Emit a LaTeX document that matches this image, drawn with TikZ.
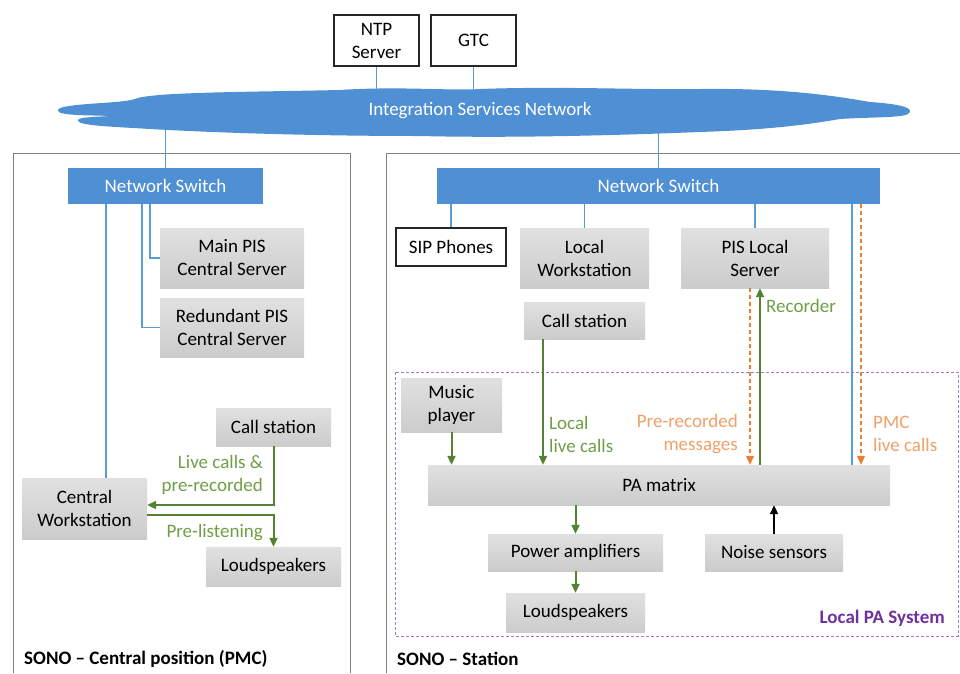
\documentclass[tikz,border=0pt]{standalone}
\usepackage{fontspec}
\setmainfont{Carlito}
\usetikzlibrary{arrows.meta,backgrounds}
\definecolor{netblue}{HTML}{5B9BD5}
\definecolor{cloudblue}{HTML}{4F8FD3}
\definecolor{agreen}{HTML}{548235}
\definecolor{tgreen}{HTML}{6F9E47}
\definecolor{aorange}{HTML}{ED7D31}
\definecolor{torange}{HTML}{F0A068}
\definecolor{pabox}{HTML}{A07CC8}
\definecolor{patext}{HTML}{7030A0}
\definecolor{secgray}{HTML}{7F7F7F}
\newcommand\dfont{\fontsize{19}{23}\selectfont}
\tikzset{
  greybox/.style={top color=gray!24, bottom color=gray!40, draw=none, inner sep=0pt, align=center, font=\dfont},
  whitebox/.style={draw=black!85, line width=1.1pt, fill=white, inner sep=0pt, align=center, font=\dfont},
  switchbox/.style={fill=cloudblue, draw=none, inner sep=0pt, text=white, font=\dfont},
  netline/.style={draw=netblue, line width=1.8pt},
  garrow/.style={draw=agreen, line width=2pt, -{Triangle[length=9pt,width=8pt]}},
  oarrow/.style={draw=aorange, line width=1.1pt, dash pattern=on 4pt off 3pt, -{Triangle[length=9pt,width=8pt]}},
  karrow/.style={draw=black, line width=2pt, -{Triangle[length=9pt,width=8pt]}},
  glabel/.style={text=tgreen, font=\dfont, inner sep=0pt},
  olabel/.style={text=torange, font=\dfont, inner sep=0pt},
  seclabel/.style={font=\dfont\bfseries, inner sep=0pt, anchor=west},
  secline/.style={draw=secgray, line width=1pt}
}
\begin{document}
\begin{tikzpicture}[x=1pt,y=-1pt]
\useasboundingbox (0,0) rectangle (960,673);
% section frames
\draw[secline] (13,673) -- (13,153) -- (350,153) -- (350,673);
\draw[secline] (386,673) -- (386,153) -- (960,153);
% local PA system frame
\draw[draw=pabox, line width=1pt, dash pattern=on 3pt off 2pt] (395,372) rectangle (958,636);
\node[text=patext, font=\dfont\bfseries, anchor=east, inner sep=0pt] (lpa) at (945,618) {Local PA System};
% cloud
\fill[cloudblue] (58,110)
 .. controls (60,103) and (120,104) .. (135,99)
 .. controls (150,92) and (250,92) .. (340,90)
 .. controls (400,86) and (450,91) .. (480,89)
 .. controls (560,86) and (640,90) .. (700,89)
 .. controls (780,88) and (830,95) .. (870,102)
 .. controls (900,104) and (916,108) .. (908,114)
 .. controls (900,118) and (870,117) .. (840,119)
 .. controls (800,126) and (760,130) .. (700,132)
 .. controls (600,136) and (500,138) .. (420,136)
 .. controls (320,136) and (220,133) .. (150,129)
 .. controls (120,127) and (80,126) .. (78,121)
 .. controls (76,117) and (95,117) .. (110,116)
 .. controls (90,115) and (56,116) .. (58,110) -- cycle;
\node[text=white, font=\dfont, inner sep=0pt] (isn) at (480,111) {Integration Services Network};
% top boxes
\node[whitebox, minimum width=85pt, minimum height=51pt] (ntp) at (376.5,40.5) {NTP\\Server};
\node[whitebox, minimum width=85pt, minimum height=51pt] (gtc) at (473.5,40.5) {GTC};
% left section
\node[switchbox, minimum width=195pt, minimum height=36pt] (swL) at (165.5,186) {Network Switch};
\node[greybox, minimum width=144pt, minimum height=60pt] (mainpis) at (232,258) {Main PIS\\Central Server};
\node[greybox, minimum width=144pt, minimum height=59pt] (redpis) at (232,327.5) {Redundant PIS\\Central Server};
\node[greybox, minimum width=115pt, minimum height=38pt] (callL) at (273.5,427) {Call station};
\node[greybox, minimum width=125pt, minimum height=61pt] (cws) at (84.5,508.5) {Central\\Workstation};
\node[greybox, minimum width=135pt, minimum height=39pt] (lsL) at (273.5,566.5) {Loudspeakers};
% right section
\node[switchbox, minimum width=443pt, minimum height=36pt] (swR) at (658.5,186) {Network Switch};
\node[whitebox, minimum width=110pt, minimum height=38pt] (sip) at (451,247) {SIP Phones};
\node[greybox, minimum width=129pt, minimum height=60pt] (lws) at (584.5,258) {Local\\Workstation};
\node[greybox, minimum width=148pt, minimum height=60pt] (pisl) at (755,258) {PIS Local\\Server};
\node[greybox, minimum width=121pt, minimum height=37pt] (callR) at (584.5,320.5) {Call station};
\node[greybox, minimum width=101pt, minimum height=54pt] (music) at (451.5,405) {Music\\player};
\node[greybox, minimum width=462pt, minimum height=40pt] (pa) at (659,485) {PA matrix};
\node[greybox, minimum width=175pt, minimum height=37pt] (pamp) at (575.5,552.5) {Power amplifiers};
\node[greybox, minimum width=139pt, minimum height=39pt] (lsR) at (575.5,612.5) {Loudspeakers};
\node[greybox, minimum width=138pt, minimum height=37pt] (noise) at (774,552.5) {Noise sensors};
% helper coordinates
\coordinate (xl1) at (106,0);
\coordinate (xl2) at (142,0);
\coordinate (xl3) at (150,0);
\coordinate (ya) at (0,505);
\coordinate (yb) at (0,515);
\coordinate (xr1) at (852,0);
\coordinate (xr2) at (861,0);
\coordinate (xr3) at (543,0);
\coordinate (xr4) at (750,0);
\coordinate (xr5) at (760,0);
% network lines (behind cloud)
\begin{scope}[on background layer]
\draw[netline] (ntp.south) -- (ntp.south |- isn.center);
\draw[netline] (gtc.south) -- (gtc.south |- isn.center);
\draw[netline] (swL.north) -- (swL.north |- isn.center);
\draw[netline] (swR.north) -- (swR.north |- isn.center);
\end{scope}
\draw[netline] (swL.south -| xl1) -- (cws.north -| xl1);
\draw[netline] (swL.south -| xl3) |- (mainpis.west);
\draw[netline] (swL.south -| xl2) |- (redpis.west);
\draw[netline] (swR.south -| sip.north) -- (sip.north);
\draw[netline] (swR.south -| lws.north) -- (lws.north);
\draw[netline] (swR.south -| pisl.north) -- (pisl.north);
\draw[netline] (swR.south -| xr1) -- (pa.north -| xr1);
\draw[oarrow] (swR.south -| xr2) -- (pa.north -| xr2);
% left green arrows
\draw[garrow] (callL.south) |- (cws.east |- ya);
\draw[garrow] (cws.east |- yb) -| (lsL.north);
\node[glabel, anchor=east, align=right] (lbl1) at (263,475) {Live calls \&\\pre-recorded};
\node[glabel, anchor=east] (lbl2) at (263,533) {Pre-listening};
% right arrows
\draw[garrow] (callR.south -| xr3) -- (pa.north -| xr3);
\draw[oarrow] (pisl.south -| xr4) -- (pa.north -| xr4);
\draw[garrow] (pa.north -| xr5) -- (pisl.south -| xr5);
\draw[garrow] (music.south) -- (pa.north -| music.south);
\draw[garrow] (pa.south -| pamp.north) -- (pamp.north);
\draw[garrow] (pamp.south) -- (lsR.north);
\draw[karrow] (noise.north) -- (pa.south -| noise.north);
\node[glabel, anchor=west] (lbl3) at (766,306) {Recorder};
\node[glabel, anchor=west, align=left] (lbl4) at (549,434) {Local\\live calls};
\node[olabel, anchor=east, align=right] (lbl5) at (738,434) {Pre-recorded\\messages};
\node[olabel, anchor=west, align=left] (lbl6) at (873,434) {PMC\\live calls};
% section labels
\node[seclabel] (sec1) at (24,659) {SONO – Central position (PMC)};
\node[seclabel] (sec2) at (397,659) {SONO – Station};
\end{tikzpicture}
\end{document}
